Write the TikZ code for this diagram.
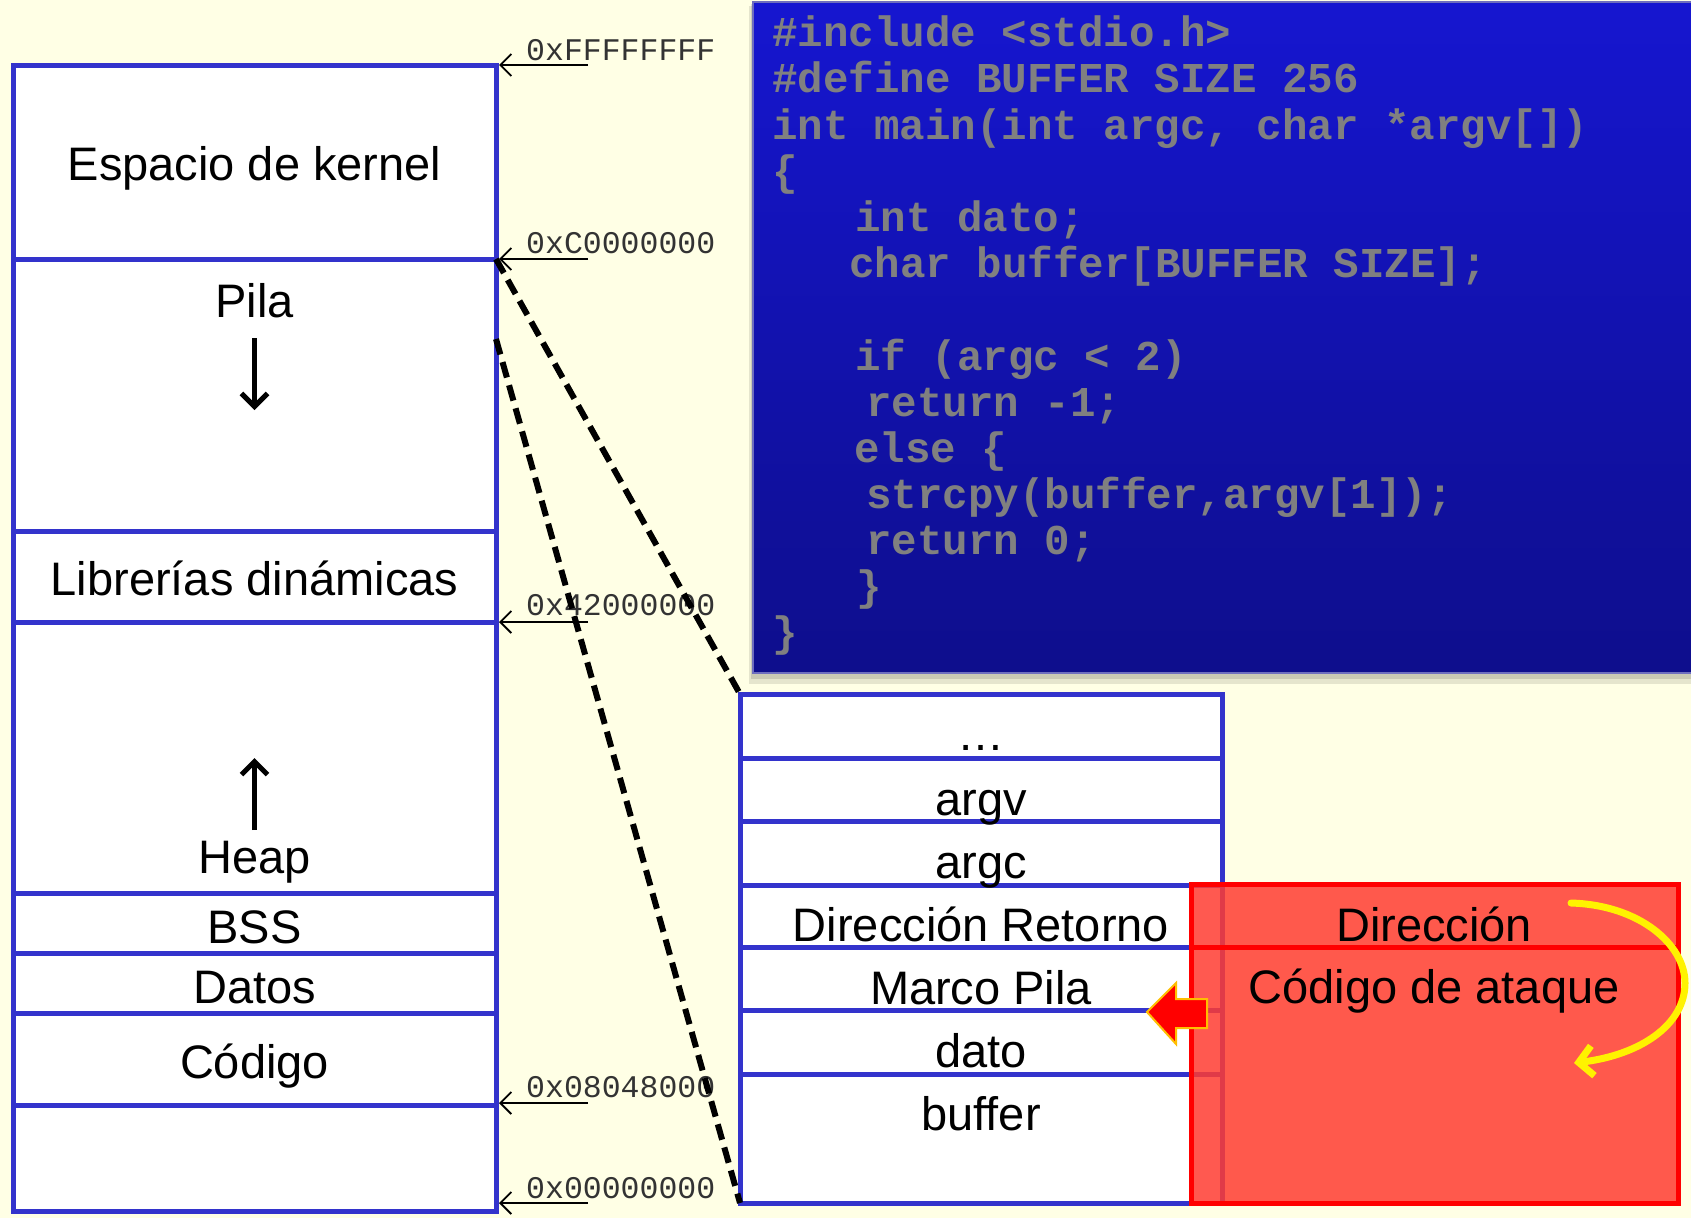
\documentclass[tikz,border=0pt]{standalone}
\usepackage{fontspec}
\setmainfont{Liberation Sans}
\newfontfamily\codefont{Liberation Mono}
\usetikzlibrary{arrows.meta}
\definecolor{bgcream}{RGB}{255,255,229}
\definecolor{memblue}{RGB}{51,51,204}
\definecolor{codetop}{RGB}{22,22,208}
\definecolor{codebot}{RGB}{14,14,140}
\definecolor{codegray}{RGB}{128,128,128}
\definecolor{attackfill}{RGB}{255,60,50}
\definecolor{arrowgold}{RGB}{255,190,0}
\begin{document}
\begin{tikzpicture}[x=1pt,y=-1pt,
  memline/.style={draw=memblue, line width=5pt},
  lbl/.style={inner sep=0pt, anchor=base, font=\fontsize{47}{56}\selectfont},
  addr/.style={inner sep=0pt, anchor=base west, text=black!80, font=\codefont\fontsize{31.5}{36}\selectfont},
  codeln/.style={inner sep=0pt, anchor=base west, text=codegray, font=\codefont\bfseries\fontsize{42.5}{46}\selectfont},
  addrarrow/.style={draw=black, line width=1.8pt, -{Straight Barb[length=11pt,width=22pt]}},
  growarrow/.style={draw=black, line width=5pt, -{Straight Barb[length=13pt,width=26pt]}},
  zoomline/.style={draw=black, line width=6pt, dash pattern=on 16pt off 8pt},
]
% background
\fill[bgcream] (0,0) rectangle (1691,1218);
\useasboundingbox (0,0) rectangle (1691,1218);

% ---------- code box ----------
\fill[black, opacity=0.10] (749,6) rectangle (1691,684);
\fill[black, opacity=0.12] (751,4) rectangle (1691,679);
\shade[top color=codetop, bottom color=codebot] (753,2) rectangle (1691,673);
\draw[color={rgb,255:red,110;green,110;blue,190}, line width=1.2pt] (1691,2) -- (753,2) -- (753,673) -- (1691,673);
\node[codeln] (c0)  at (772,46)  {\#include <stdio.h>};
\node[codeln] (c1)  at (772,92)  {\#define BUFFER SIZE 256};
\node[codeln] (c2)  at (772,139) {int main(int argc, char *argv[])};
\node[codeln] (c3)  at (772,185) {\{};
\node[codeln] (c4)  at (855,231) {int dato;};
\node[codeln] (c5)  at (849,277) {char buffer[BUFFER SIZE];};
\node[codeln] (c7)  at (855,370) {if (argc < 2)};
\node[codeln] (c8)  at (866,416) {return -1;};
\node[codeln] (c9)  at (854,462) {else \{};
\node[codeln] (c10) at (866,508) {strcpy(buffer,argv[1]);};
\node[codeln] (c11) at (866,554) {return 0;};
\node[codeln] (c12) at (856,600) {\}};
\node[codeln] (c13) at (772,646) {\}};

% ---------- memory map ----------
\coordinate (mTL) at (13,65);
\coordinate (mBR) at (496,1211);
\fill[white] (mTL) rectangle (mBR);
\foreach \y in {259,531,622,893,953,1013,1105}
  \draw[memline] (13,\y) -- (496,\y);
\draw[memline] (mTL) rectangle (mBR);

\node[lbl] (kern) at (254.5,180)  {Espacio de kernel};
\node[lbl] (pila) at (254.5,317)  {Pila};
\node[lbl] (libs) at (254.5,595)  {Librerías dinámicas};
\node[lbl] (heap) at (254.5,873)  {Heap};
\node[lbl] (bss)  at (254.5,943)  {BSS};
\node[lbl] (dat)  at (254.5,1003) {Datos};
\node[lbl] (cod)  at (254.5,1078) {Código};

\coordinate (pilaA) at (254.5,338);
\coordinate (pilaB) at (254.5,410);
\draw[growarrow] (pilaA) -- (pilaB);
\coordinate (heapA) at (254.5,830);
\coordinate (heapB) at (254.5,758);
\draw[growarrow] (heapA) -- (heapB);

% address labels
\foreach \name/\ly/\by/\txt in {aF/65/60/0xFFFFFFFF, aC/259/253/0xC0000000, a4/622/615/0x42000000, a8/1103/1097/0x08048000, a0/1203/1198/0x00000000}{
  \coordinate (\name-end) at (499,\ly);
  \coordinate (\name-start) at (588,\ly);
  \draw[addrarrow] (\name-start) -- (\name-end);
  \node[addr] (\name) at (526,\by) {\txt};
}

% ---------- stack frame ----------
\coordinate (sTL) at (740,694);
\coordinate (sBR) at (1222,1203);
\fill[white] (sTL) rectangle (sBR);
\foreach \y in {758,821,885,947,1010,1074}
  \draw[memline] (740,\y) -- (1222,\y);
\draw[memline] (sTL) rectangle (sBR);
\node[lbl] (dots) at (981,750)  {…};
\node[lbl] (argv) at (981,815)  {argv};
\node[lbl] (argc) at (981,878)  {argc};
\node[lbl] (ret)  at (981,941)  {Dirección Retorno};
\node[lbl] (mpil) at (981,1004) {Marco Pila};
\node[lbl] (dato) at (981,1067) {dato};
\node[lbl] (buf)  at (981,1130) {buffer};

% zoom lines
\coordinate (zA1) at (496,259);
\coordinate (zB1) at (740,694);
\coordinate (zA2) at (496,339);
\coordinate (zB2) at (740,1203);
\draw[zoomline] (zA1) -- (zB1);
\draw[zoomline] (zA2) -- (zB2);

% ---------- attack box ----------
\coordinate (rTL) at (1191,884);
\coordinate (rBR) at (1678,1203);
\fill[attackfill, opacity=0.85] (rTL) rectangle (rBR);
\draw[red, line width=5pt] (1191,947) -- (1678,947);
\draw[red, line width=5pt] (rTL) rectangle (rBR);
\node[lbl] (dir) at (1434,941)  {Dirección};
\node[lbl] (cat) at (1434,1003) {Código de ataque};

% red block arrow
\draw[fill=red, draw=arrowgold, line width=2pt, line join=miter]
  (1147,1012) -- (1176,983) -- (1176,999) -- (1207,999) -- (1207,1028)
  -- (1176,1028) -- (1176,1044) -- cycle;

% yellow curved arrow
\coordinate (yS) at (1571,903);
\coordinate (yE) at (1574,1063);
\draw[yellow, line width=7pt, line cap=round, -{Straight Barb[length=14pt,width=30pt]}]
  (yS) .. controls (1640,905) and (1685,945) .. (1685,983)
  .. controls (1685,1025) and (1640,1055) .. (yE);
\end{tikzpicture}
\end{document}
